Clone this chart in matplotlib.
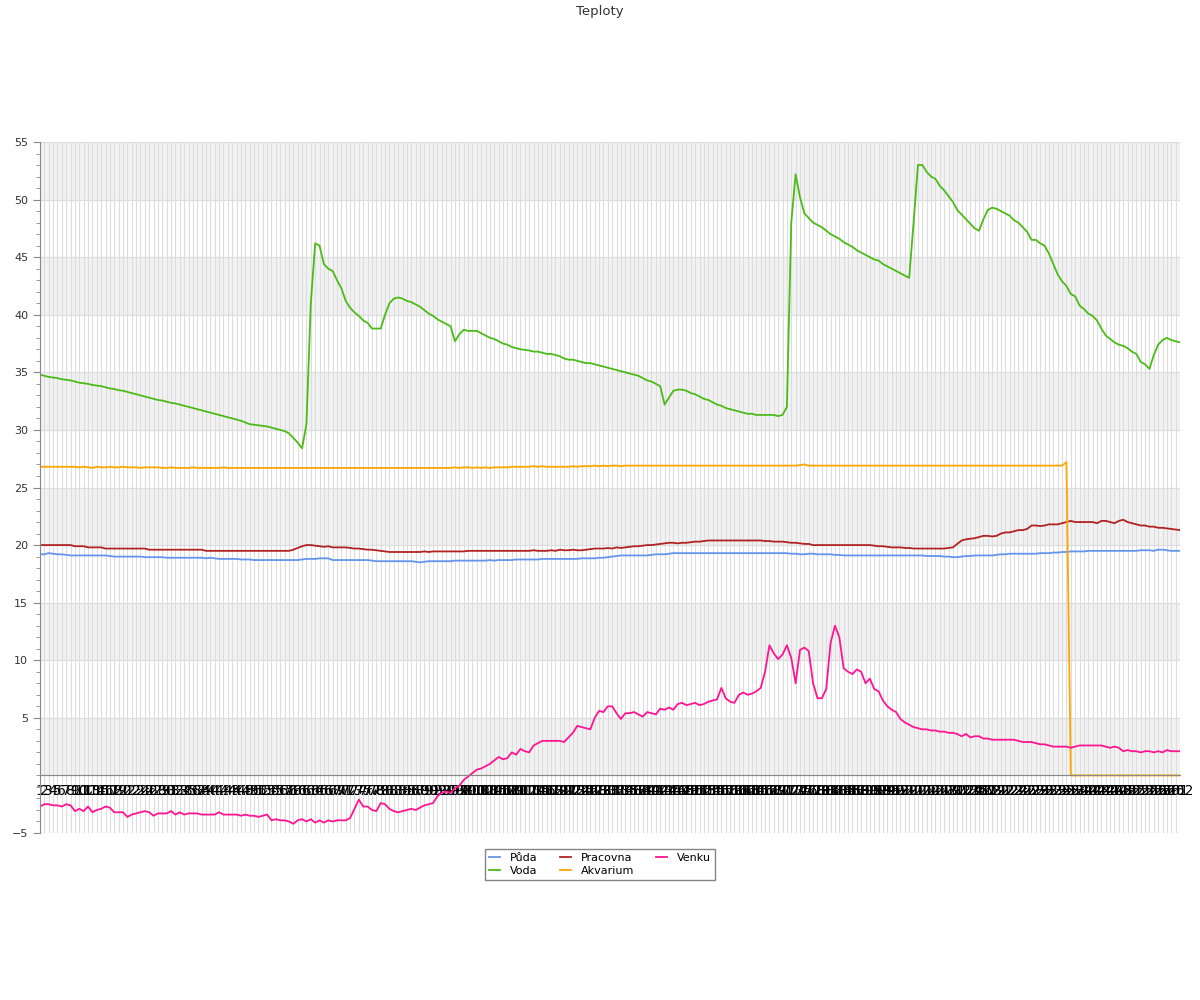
import numpy as np
import matplotlib
matplotlib.use("Agg")
import matplotlib.pyplot as plt
from matplotlib.ticker import MultipleLocator

# teploty - hodnoty
puda = [19.2, 19.2, 19.3, 19.25, 19.2, 19.2, 19.15, 19.1, 19.1, 19.1,
        19.1, 19.1, 19.1, 19.1, 19.1, 19.1, 19.05, 19.0, 19.0, 19.0,
        19.0, 19.0, 19.0, 19.0, 18.95, 18.95, 18.95, 18.95, 18.95, 18.9,
        18.9, 18.9, 18.9, 18.9, 18.9, 18.9, 18.9, 18.9, 18.85, 18.9,
        18.85, 18.8, 18.8, 18.8, 18.8, 18.8, 18.75, 18.75, 18.75, 18.7,
        18.7, 18.7, 18.7, 18.7, 18.7, 18.7, 18.7, 18.7, 18.7, 18.7,
        18.75, 18.8, 18.8, 18.8, 18.85, 18.85, 18.85, 18.7, 18.7, 18.7,
        18.7, 18.7, 18.7, 18.7, 18.7, 18.7, 18.65, 18.6, 18.6, 18.6,
        18.6, 18.6, 18.6, 18.6, 18.6, 18.6, 18.55, 18.5, 18.55, 18.6,
        18.6, 18.6, 18.6, 18.6, 18.6, 18.65, 18.65, 18.65, 18.65, 18.65,
        18.65, 18.65, 18.65, 18.7, 18.65, 18.7, 18.7, 18.7, 18.7, 18.75,
        18.75, 18.75, 18.75, 18.75, 18.75, 18.8, 18.8, 18.8, 18.8, 18.8,
        18.8, 18.8, 18.8, 18.8, 18.85, 18.85, 18.85, 18.85, 18.9, 18.9,
        18.95, 19.0, 19.05, 19.1, 19.1, 19.1, 19.1, 19.1, 19.1, 19.1,
        19.15, 19.2, 19.2, 19.2, 19.25, 19.3, 19.3, 19.3, 19.3, 19.3,
        19.3, 19.3, 19.3, 19.3, 19.3, 19.3, 19.3, 19.3, 19.3, 19.3,
        19.3, 19.3, 19.3, 19.3, 19.3, 19.3, 19.3, 19.3, 19.3, 19.3,
        19.3, 19.3, 19.25, 19.25, 19.2, 19.2, 19.25, 19.25, 19.2, 19.2,
        19.2, 19.2, 19.15, 19.15, 19.1, 19.1, 19.1, 19.1, 19.1, 19.1,
        19.1, 19.1, 19.1, 19.1, 19.1, 19.1, 19.1, 19.1, 19.1, 19.1,
        19.1, 19.1, 19.1, 19.05, 19.05, 19.05, 19.05, 19.0, 19.0, 18.95,
        18.95, 19.0, 19.05, 19.05, 19.1, 19.1, 19.1, 19.1, 19.1, 19.15,
        19.2, 19.2, 19.25, 19.25, 19.25, 19.25, 19.25, 19.25, 19.25, 19.3,
        19.3, 19.3, 19.35, 19.35, 19.4, 19.4, 19.45, 19.45, 19.45, 19.45,
        19.5, 19.5, 19.5, 19.5, 19.5, 19.5, 19.5, 19.5, 19.5, 19.5,
        19.5, 19.5, 19.55, 19.55, 19.55, 19.5, 19.6, 19.6, 19.55, 19.5,
        19.5, 19.5]

voda = [34.8, 34.7, 34.6, 34.55, 34.5, 34.4, 34.35, 34.3, 34.2, 34.1,
        34.05, 34.0, 33.9, 33.85, 33.8, 33.7, 33.6, 33.55, 33.45, 33.4,
        33.3, 33.2, 33.1, 33.0, 32.9, 32.8, 32.7, 32.6, 32.55, 32.45,
        32.35, 32.3, 32.2, 32.1, 32.0, 31.9, 31.8, 31.7, 31.6, 31.5,
        31.4, 31.3, 31.2, 31.1, 31.0, 30.9, 30.8, 30.65, 30.5, 30.45,
        30.4, 30.35, 30.3, 30.2, 30.1, 30.0, 29.9, 29.7, 29.3, 28.9,
        28.4, 30.5, 41.0, 46.2, 46.0, 44.4, 44.0, 43.8, 43.0, 42.3,
        41.2, 40.6, 40.2, 39.9, 39.5, 39.3, 38.8, 38.8, 38.8, 40.0,
        41.0, 41.4, 41.5, 41.4, 41.2, 41.1, 40.9, 40.7, 40.4, 40.1,
        39.9, 39.6, 39.4, 39.2, 39.0, 37.7, 38.3, 38.7, 38.6, 38.6,
        38.6, 38.4, 38.2, 38.0, 37.9, 37.7, 37.5, 37.4, 37.2, 37.1,
        37.0, 36.95, 36.9, 36.8, 36.8, 36.7, 36.6, 36.6, 36.5, 36.4,
        36.2, 36.1, 36.1, 36.0, 35.9, 35.8, 35.8, 35.7, 35.6, 35.5,
        35.4, 35.3, 35.2, 35.1, 35.0, 34.9, 34.8, 34.7, 34.5, 34.3,
        34.2, 34.0, 33.8, 32.2, 32.8, 33.4, 33.5, 33.5, 33.4, 33.2,
        33.1, 32.9, 32.7, 32.6, 32.4, 32.2, 32.1, 31.9, 31.8, 31.7,
        31.6, 31.5, 31.4, 31.4, 31.3, 31.3, 31.3, 31.3, 31.3, 31.2,
        31.3, 32.0, 48.0, 52.2, 50.2, 48.8, 48.4, 48.0, 47.8, 47.6,
        47.3, 47.0, 46.8, 46.6, 46.3, 46.1, 45.9, 45.6, 45.4, 45.2,
        45.0, 44.8, 44.7, 44.4, 44.2, 44.0, 43.8, 43.6, 43.4, 43.2,
        48.0, 53.0, 53.0, 52.4, 52.0, 51.8, 51.2, 50.8, 50.3, 49.8,
        49.1, 48.7, 48.3, 47.9, 47.5, 47.3, 48.3, 49.1, 49.3, 49.2,
        49.0, 48.8, 48.6, 48.2, 48.0, 47.6, 47.2, 46.5, 46.5, 46.2,
        46.0, 45.3, 44.4, 43.5, 42.9, 42.5, 41.8, 41.6, 40.8, 40.5,
        40.1, 39.9, 39.5, 38.8, 38.2, 37.9, 37.6, 37.4, 37.3, 37.1,
        36.8, 36.6, 35.9, 35.7, 35.3, 36.5, 37.4, 37.8, 38.0, 37.8,
        37.7, 37.6]

pracovna = [20.0, 20.0, 20.0, 20.0, 20.0, 20.0, 20.0, 20.0, 19.9, 19.9,
            19.9, 19.8, 19.8, 19.8, 19.8, 19.7, 19.7, 19.7, 19.7, 19.7,
            19.7, 19.7, 19.7, 19.7, 19.7, 19.6, 19.6, 19.6, 19.6, 19.6,
            19.6, 19.6, 19.6, 19.6, 19.6, 19.6, 19.6, 19.6, 19.5, 19.5,
            19.5, 19.5, 19.5, 19.5, 19.5, 19.5, 19.5, 19.5, 19.5, 19.5,
            19.5, 19.5, 19.5, 19.5, 19.5, 19.5, 19.5, 19.5, 19.6, 19.75,
            19.9, 20.0, 20.0, 19.95, 19.9, 19.85, 19.9, 19.8, 19.8, 19.8,
            19.8, 19.75, 19.7, 19.7, 19.65, 19.6, 19.6, 19.55, 19.5, 19.45,
            19.4, 19.4, 19.4, 19.4, 19.4, 19.4, 19.4, 19.4, 19.45, 19.4,
            19.45, 19.45, 19.45, 19.45, 19.45, 19.45, 19.45, 19.45, 19.5, 19.5,
            19.5, 19.5, 19.5, 19.5, 19.5, 19.5, 19.5, 19.5, 19.5, 19.5,
            19.5, 19.5, 19.5, 19.55, 19.5, 19.5, 19.5, 19.55, 19.5, 19.6,
            19.55, 19.55, 19.6, 19.55, 19.55, 19.6, 19.65, 19.7, 19.7, 19.7,
            19.75, 19.7, 19.8, 19.75, 19.8, 19.85, 19.9, 19.9, 19.95, 20.0,
            20.0, 20.05, 20.1, 20.15, 20.2, 20.2, 20.15, 20.2, 20.2, 20.25,
            20.3, 20.3, 20.35, 20.4, 20.4, 20.4, 20.4, 20.4, 20.4, 20.4,
            20.4, 20.4, 20.4, 20.4, 20.4, 20.4, 20.35, 20.35, 20.3, 20.3,
            20.3, 20.25, 20.2, 20.2, 20.15, 20.1, 20.1, 20.0, 20.0, 20.0,
            20.0, 20.0, 20.0, 20.0, 20.0, 20.0, 20.0, 20.0, 20.0, 20.0,
            20.0, 19.95, 19.9, 19.9, 19.85, 19.8, 19.8, 19.8, 19.75, 19.75,
            19.7, 19.7, 19.7, 19.7, 19.7, 19.7, 19.7, 19.7, 19.75, 19.8,
            20.1, 20.4, 20.5, 20.55, 20.6, 20.7, 20.8, 20.8, 20.75, 20.8,
            21.0, 21.1, 21.1, 21.2, 21.3, 21.3, 21.4, 21.7, 21.7, 21.65,
            21.7, 21.8, 21.8, 21.8, 21.9, 22.0, 22.1, 22.0, 22.0, 22.0,
            22.0, 22.0, 21.9, 22.1, 22.1, 22.0, 21.9, 22.1, 22.2, 22.0,
            21.9, 21.8, 21.7, 21.7, 21.6, 21.6, 21.5, 21.5, 21.45, 21.4,
            21.35, 21.3]

akvarium = [26.8, 26.8, 26.8, 26.8, 26.8, 26.8, 26.8, 26.8, 26.8, 26.75,
            26.8, 26.75, 26.7, 26.8, 26.75, 26.75, 26.8, 26.75, 26.75, 26.8,
            26.75, 26.75, 26.75, 26.7, 26.75, 26.75, 26.75, 26.75, 26.7, 26.7,
            26.75, 26.7, 26.7, 26.7, 26.7, 26.75, 26.7, 26.7, 26.7, 26.7,
            26.7, 26.7, 26.75, 26.7, 26.7, 26.7, 26.7, 26.7, 26.7, 26.7,
            26.7, 26.7, 26.7, 26.7, 26.7, 26.7, 26.7, 26.7, 26.7, 26.7,
            26.7, 26.7, 26.7, 26.7, 26.7, 26.7, 26.7, 26.7, 26.7, 26.7,
            26.7, 26.7, 26.7, 26.7, 26.7, 26.7, 26.7, 26.7, 26.7, 26.7,
            26.7, 26.7, 26.7, 26.7, 26.7, 26.7, 26.7, 26.7, 26.7, 26.7,
            26.7, 26.7, 26.7, 26.7, 26.7, 26.75, 26.7, 26.75, 26.75, 26.7,
            26.75, 26.7, 26.75, 26.7, 26.75, 26.75, 26.75, 26.75, 26.8, 26.8,
            26.8, 26.8, 26.8, 26.85, 26.8, 26.85, 26.8, 26.8, 26.8, 26.8,
            26.8, 26.8, 26.85, 26.8, 26.85, 26.85, 26.85, 26.9, 26.85, 26.9,
            26.85, 26.9, 26.9, 26.85, 26.9, 26.9, 26.9, 26.9, 26.9, 26.9,
            26.9, 26.9, 26.9, 26.9, 26.9, 26.9, 26.9, 26.9, 26.9, 26.9,
            26.9, 26.9, 26.9, 26.9, 26.9, 26.9, 26.9, 26.9, 26.9, 26.9,
            26.9, 26.9, 26.9, 26.9, 26.9, 26.9, 26.9, 26.9, 26.9, 26.9,
            26.9, 26.9, 26.9, 26.9, 26.95, 27.0, 26.9, 26.9, 26.9, 26.9,
            26.9, 26.9, 26.9, 26.9, 26.9, 26.9, 26.9, 26.9, 26.9, 26.9,
            26.9, 26.9, 26.9, 26.9, 26.9, 26.9, 26.9, 26.9, 26.9, 26.9,
            26.9, 26.9, 26.9, 26.9, 26.9, 26.9, 26.9, 26.9, 26.9, 26.9,
            26.9, 26.9, 26.9, 26.9, 26.9, 26.9, 26.9, 26.9, 26.9, 26.9,
            26.9, 26.9, 26.9, 26.9, 26.9, 26.9, 26.9, 26.9, 26.9, 26.9,
            26.9, 26.9, 26.9, 26.9, 26.9, 27.2, 0.0, 0.0, 0.0, 0.0,
            0.0, 0.0, 0.0, 0.0, 0.0, 0.0, 0.0, 0.0, 0.0, 0.0,
            0.0, 0.0, 0.0, 0.0, 0.0, 0.0, 0.0, 0.0, 0.0, 0.0,
            0.0, 0.0]

venku = [-2.7, -2.5, -2.5, -2.6, -2.6, -2.7, -2.5, -2.6, -3.1, -2.9,
         -3.1, -2.7, -3.2, -3.0, -2.9, -2.7, -2.8, -3.2, -3.2, -3.2,
         -3.6, -3.4, -3.3, -3.2, -3.1, -3.2, -3.5, -3.3, -3.3, -3.3,
         -3.1, -3.4, -3.2, -3.4, -3.3, -3.3, -3.3, -3.4, -3.4, -3.4,
         -3.4, -3.2, -3.4, -3.4, -3.4, -3.4, -3.5, -3.4, -3.5, -3.5,
         -3.6, -3.5, -3.4, -3.9, -3.8, -3.9, -3.9, -4.0, -4.2, -3.9,
         -3.8, -4.0, -3.8, -4.1, -3.9, -4.1, -3.9, -4.0, -3.9, -3.9,
         -3.9, -3.7, -2.9, -2.1, -2.7, -2.7, -3.0, -3.1, -2.4, -2.5,
         -2.9, -3.1, -3.2, -3.1, -3.0, -2.9, -3.0, -2.8, -2.6, -2.5,
         -2.4, -1.8, -1.5, -1.4, -1.5, -1.1, -0.9, -0.4, -0.1, 0.2,
         0.5, 0.6, 0.8, 1.0, 1.3, 1.6, 1.4, 1.5, 2.0, 1.8,
         2.3, 2.1, 2.0, 2.6, 2.8, 3.0, 3.0, 3.0, 3.0, 3.0,
         2.9, 3.3, 3.7, 4.3, 4.2, 4.1, 4.0, 5.0, 5.6, 5.5,
         6.0, 6.0, 5.4, 4.9, 5.4, 5.4, 5.5, 5.3, 5.1, 5.5,
         5.4, 5.3, 5.8, 5.7, 5.9, 5.7, 6.2, 6.3, 6.1, 6.2,
         6.3, 6.1, 6.2, 6.4, 6.5, 6.6, 7.6, 6.7, 6.4, 6.3,
         7.0, 7.2, 7.0, 7.1, 7.3, 7.6, 9.0, 11.3, 10.6, 10.1,
         10.5, 11.3, 10.2, 8.0, 10.9, 11.1, 10.8, 8.0, 6.7, 6.7,
         7.5, 11.5, 13.0, 12.0, 9.3, 9.0, 8.8, 9.2, 9.0, 8.0,
         8.4, 7.5, 7.3, 6.5, 6.0, 5.7, 5.5, 4.9, 4.6, 4.4,
         4.2, 4.1, 4.0, 4.0, 3.9, 3.9, 3.8, 3.8, 3.7, 3.7,
         3.6, 3.4, 3.6, 3.3, 3.4, 3.4, 3.2, 3.2, 3.1, 3.1,
         3.1, 3.1, 3.1, 3.1, 3.0, 2.9, 2.9, 2.9, 2.8, 2.7,
         2.7, 2.6, 2.5, 2.5, 2.5, 2.5, 2.4, 2.5, 2.6, 2.6,
         2.6, 2.6, 2.6, 2.6, 2.5, 2.4, 2.5, 2.4, 2.1, 2.2,
         2.1, 2.1, 2.0, 2.1, 2.1, 2.0, 2.1, 2.0, 2.2, 2.1,
         2.1, 2.1]

n = len(puda)
x = np.arange(n)
labels = [str(i + 1) for i in range(n)]

fig = plt.figure(figsize=(12, 10), dpi=100)
ax = fig.add_axes([40 / 1200, 0.167, 1140 / 1200, 0.691])

# sede pruhy
for lo in range(0, 55, 10):
    ax.axhspan(lo, lo + 5, color='#f2f2f2', zorder=0, lw=0)

ax.plot(x, puda, color='#6495ed', lw=1.3, label='Půda')
ax.plot(x, voda, color='#4cbb17', lw=1.3, label='Voda')
ax.plot(x, pracovna, color='#b22222', lw=1.3, label='Pracovna')
ax.plot(x, akvarium, color='#ffa500', lw=1.3, label='Akvarium')
ax.plot(x, venku, color='#ff1493', lw=1.3, label='Venku')

ax.set_xlim(0, n - 1)
ax.set_ylim(-5, 55)

ax.set_xticks(x)
ax.set_xticklabels(labels, fontsize=7.5, color='#444444')
ax.set_yticks([-5, 5, 10, 15, 20, 25, 30, 35, 40, 45, 50, 55])
ax.yaxis.set_minor_locator(MultipleLocator(1))
ax.tick_params(axis='y', labelsize=8, colors='#333333', length=5, color='#888888')
ax.tick_params(axis='y', which='minor', length=3, color='#888888')
ax.tick_params(axis='x', length=0, pad=6)

ax.set_axisbelow(True)
ax.grid(axis='x', color='#dddddd', lw=0.8)
for yy in range(-5, 60, 5):
    ax.axhline(yy, color='#dddddd', lw=0.9, zorder=0.5)

ax.spines['bottom'].set_position(('data', 0))
ax.spines['bottom'].set_color('#888888')
ax.spines['left'].set_color('#888888')
ax.spines['top'].set_visible(False)
ax.spines['right'].set_visible(False)

fig.suptitle('Teploty', y=0.995, fontsize=9.5, color='#333333')

fig.legend(loc='upper center', bbox_to_anchor=(0.5, 0.151), ncol=3,
           fontsize=8, fancybox=False, edgecolor='#666666',
           handlelength=1.0, handletextpad=0.9, columnspacing=2.0,
           borderpad=0.35, labelspacing=0.3, borderaxespad=0.0)

plt.savefig('out.png', dpi=100)
